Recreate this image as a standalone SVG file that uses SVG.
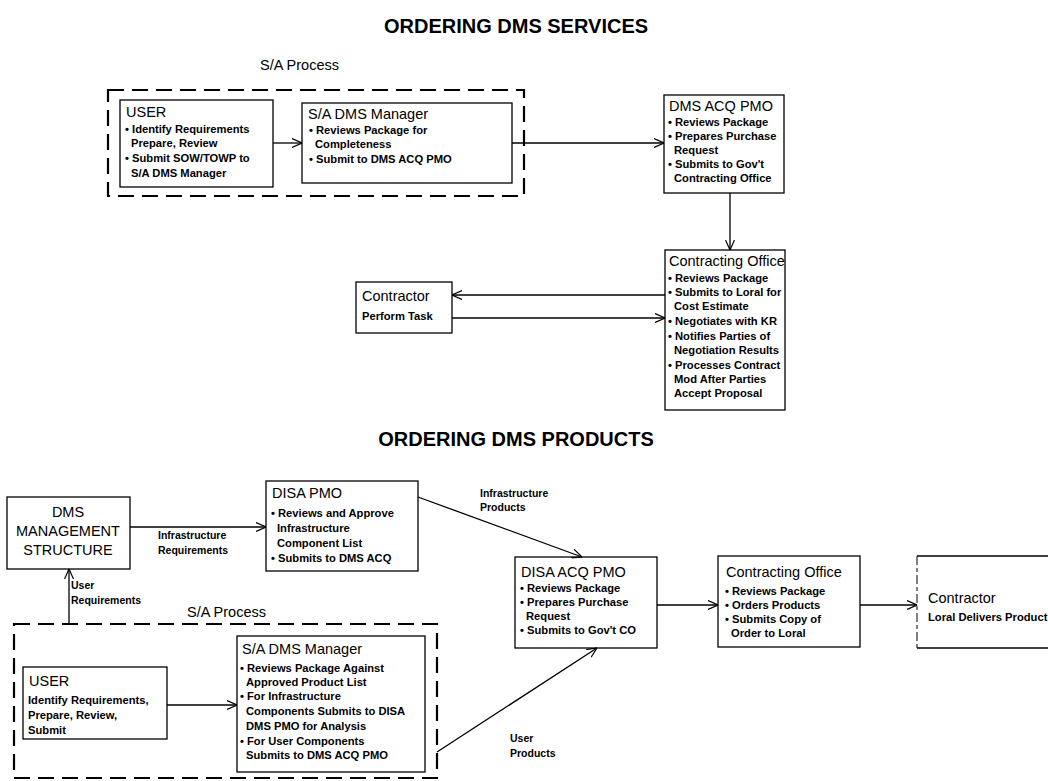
<svg xmlns="http://www.w3.org/2000/svg" width="1048" height="781" viewBox="0 0 1048 781">
<defs>
<marker id="arr" viewBox="0 0 10 10" refX="10" refY="5" markerWidth="10" markerHeight="10" markerUnits="userSpaceOnUse" orient="auto">
<path d="M0,0.5 L10,5 L0,9.5" fill="none" stroke="#000" stroke-width="1.2"/>
</marker>
<style>
text{font-family:"Liberation Sans",Arial,Helvetica,sans-serif;fill:#000}
.t{font-size:20px;font-weight:bold}
.h{font-size:14.5px}
.b{font-size:11.2px;font-weight:bold}
.l{font-size:10.5px;font-weight:bold}
.box{fill:#fff;stroke:#000;stroke-width:1.3}
.dash{fill:none;stroke:#000;stroke-width:2.2;stroke-dasharray:16 8}
.c{fill:none;stroke:#000;stroke-width:1.3}
</style>
</defs>
<rect width="1048" height="781" fill="#fff"/>

<text class="t" x="516" y="33" text-anchor="middle">ORDERING DMS SERVICES</text>
<text class="t" x="516" y="446" text-anchor="middle">ORDERING DMS PRODUCTS</text>

<g id="sa-process-top">
<rect class="dash" x="108" y="90" width="416" height="106"/>
<text class="h" x="260" y="70">S/A Process</text>
</g>

<g id="user-top">
<rect class="box" x="120" y="100" width="153" height="87"/>
<text class="h" x="126" y="117">USER</text>
<text class="b" x="125" y="133">• Identify Requirements</text>
<text class="b" x="131" y="147">Prepare, Review</text>
<text class="b" x="125" y="162">• Submit SOW/TOWP to</text>
<text class="b" x="131" y="177">S/A DMS Manager</text>
</g>

<g id="sa-manager-top">
<rect class="box" x="302" y="103" width="210" height="80"/>
<text class="h" x="308" y="119">S/A DMS Manager</text>
<text class="b" x="309" y="134">• Reviews Package for</text>
<text class="b" x="315" y="148">Completeness</text>
<text class="b" x="309" y="163">• Submit to DMS ACQ PMO</text>
</g>

<g id="dms-acq-pmo">
<rect class="box" x="664" y="95" width="120" height="98"/>
<text class="h" x="669" y="111">DMS ACQ PMO</text>
<text class="b" x="668" y="126">• Reviews Package</text>
<text class="b" x="668" y="140">• Prepares Purchase</text>
<text class="b" x="674" y="154">Request</text>
<text class="b" x="668" y="168">• Submits to Gov't</text>
<text class="b" x="674" y="182">Contracting Office</text>
</g>

<g id="contracting-office-top">
<rect class="box" x="665" y="250" width="120" height="160"/>
<text class="h" x="669" y="266">Contracting Office</text>
<text class="b" x="668" y="282">• Reviews Package</text>
<text class="b" x="668" y="296">• Submits to Loral for</text>
<text class="b" x="674" y="310">Cost Estimate</text>
<text class="b" x="668" y="325">• Negotiates with KR</text>
<text class="b" x="668" y="340">• Notifies Parties of</text>
<text class="b" x="674" y="354">Negotiation Results</text>
<text class="b" x="668" y="369">• Processes Contract</text>
<text class="b" x="674" y="383">Mod After Parties</text>
<text class="b" x="674" y="397">Accept Proposal</text>
</g>

<g id="contractor-top">
<rect class="box" x="356" y="282" width="96" height="51"/>
<text class="h" x="362" y="301">Contractor</text>
<text class="b" x="362" y="320">Perform Task</text>
</g>

<g id="dms-management">
<rect class="box" x="7" y="497" width="123" height="72"/>
<text class="h" x="68" y="517" text-anchor="middle">DMS</text>
<text class="h" x="68" y="536" text-anchor="middle">MANAGEMENT</text>
<text class="h" x="68" y="555" text-anchor="middle">STRUCTURE</text>
</g>

<g id="disa-pmo">
<rect class="box" x="266" y="481" width="152" height="90"/>
<text class="h" x="272" y="498">DISA PMO</text>
<text class="b" x="271" y="517">• Reviews and Approve</text>
<text class="b" x="277" y="532">Infrastructure</text>
<text class="b" x="277" y="547">Component List</text>
<text class="b" x="271" y="562">• Submits to DMS ACQ</text>
</g>

<g id="disa-acq-pmo">
<rect class="box" x="515" y="557" width="142" height="91"/>
<text class="h" x="521" y="577">DISA ACQ PMO</text>
<text class="b" x="520" y="592">• Reviews Package</text>
<text class="b" x="520" y="606">• Prepares Purchase</text>
<text class="b" x="526" y="620">Request</text>
<text class="b" x="520" y="634">• Submits to Gov't CO</text>
</g>

<g id="contracting-office-bottom">
<rect class="box" x="718" y="556" width="142" height="91"/>
<text class="h" x="726" y="577">Contracting Office</text>
<text class="b" x="725" y="595">• Reviews Package</text>
<text class="b" x="725" y="609">• Orders Products</text>
<text class="b" x="725" y="623">• Submits Copy of</text>
<text class="b" x="731" y="637">Order to Loral</text>
</g>

<g id="contractor-bottom">
<path d="M1060,556 H917 M917,648 H1060" fill="none" stroke="#000" stroke-width="1.3"/>
<path d="M917,556 V648" fill="none" stroke="#000" stroke-width="1" stroke-dasharray="9 3 4 3"/>
<text class="h" x="928" y="603">Contractor</text>
<text class="b" x="928" y="621">Loral Delivers Product</text>
</g>

<g id="sa-process-bottom">
<rect class="dash" x="14" y="624" width="423" height="154"/>
<text class="h" x="187" y="617">S/A Process</text>
</g>

<g id="user-bottom">
<rect class="box" x="23" y="667" width="144" height="72"/>
<text class="h" x="29" y="686">USER</text>
<text class="b" x="28" y="704">Identify Requirements,</text>
<text class="b" x="28" y="719">Prepare, Review,</text>
<text class="b" x="28" y="734">Submit</text>
</g>

<g id="sa-manager-bottom">
<rect class="box" x="237" y="636" width="188" height="136"/>
<text class="h" x="242" y="654">S/A DMS Manager</text>
<text class="b" x="240" y="672">• Reviews Package Against</text>
<text class="b" x="246" y="686">Approved Product List</text>
<text class="b" x="240" y="700">• For Infrastructure</text>
<text class="b" x="246" y="715">Components Submits to DISA</text>
<text class="b" x="246" y="730">DMS PMO for Analysis</text>
<text class="b" x="240" y="745">• For User Components</text>
<text class="b" x="246" y="759">Submits to DMS ACQ PMO</text>
</g>

<g id="connectors">
<line class="c" x1="273" y1="143" x2="302" y2="143" marker-end="url(#arr)"/>
<line class="c" x1="512" y1="143" x2="664" y2="143" marker-end="url(#arr)"/>
<line class="c" x1="730" y1="193" x2="730" y2="250" marker-end="url(#arr)"/>
<line class="c" x1="665" y1="295" x2="452" y2="295" marker-end="url(#arr)"/>
<line class="c" x1="452" y1="318" x2="665" y2="318" marker-end="url(#arr)"/>
<line class="c" x1="130" y1="527" x2="266" y2="527" marker-end="url(#arr)"/>
<line class="c" x1="418" y1="497" x2="582" y2="557" marker-end="url(#arr)"/>
<line class="c" x1="657" y1="605" x2="718" y2="605" marker-end="url(#arr)"/>
<line class="c" x1="860" y1="605" x2="917" y2="605" marker-end="url(#arr)"/>
<line class="c" x1="69" y1="624" x2="69" y2="569" marker-end="url(#arr)"/>
<line class="c" x1="167" y1="705" x2="237" y2="705" marker-end="url(#arr)"/>
<line class="c" x1="437" y1="752" x2="597" y2="648" marker-end="url(#arr)"/>
<text class="l" x="158" y="539">Infrastructure</text>
<text class="l" x="158" y="554">Requirements</text>
<text class="l" x="480" y="497">Infrastructure</text>
<text class="l" x="480" y="511">Products</text>
<text class="l" x="71" y="589">User</text>
<text class="l" x="71" y="604">Requirements</text>
<text class="l" x="510" y="742">User</text>
<text class="l" x="510" y="757">Products</text>
</g>
</svg>
